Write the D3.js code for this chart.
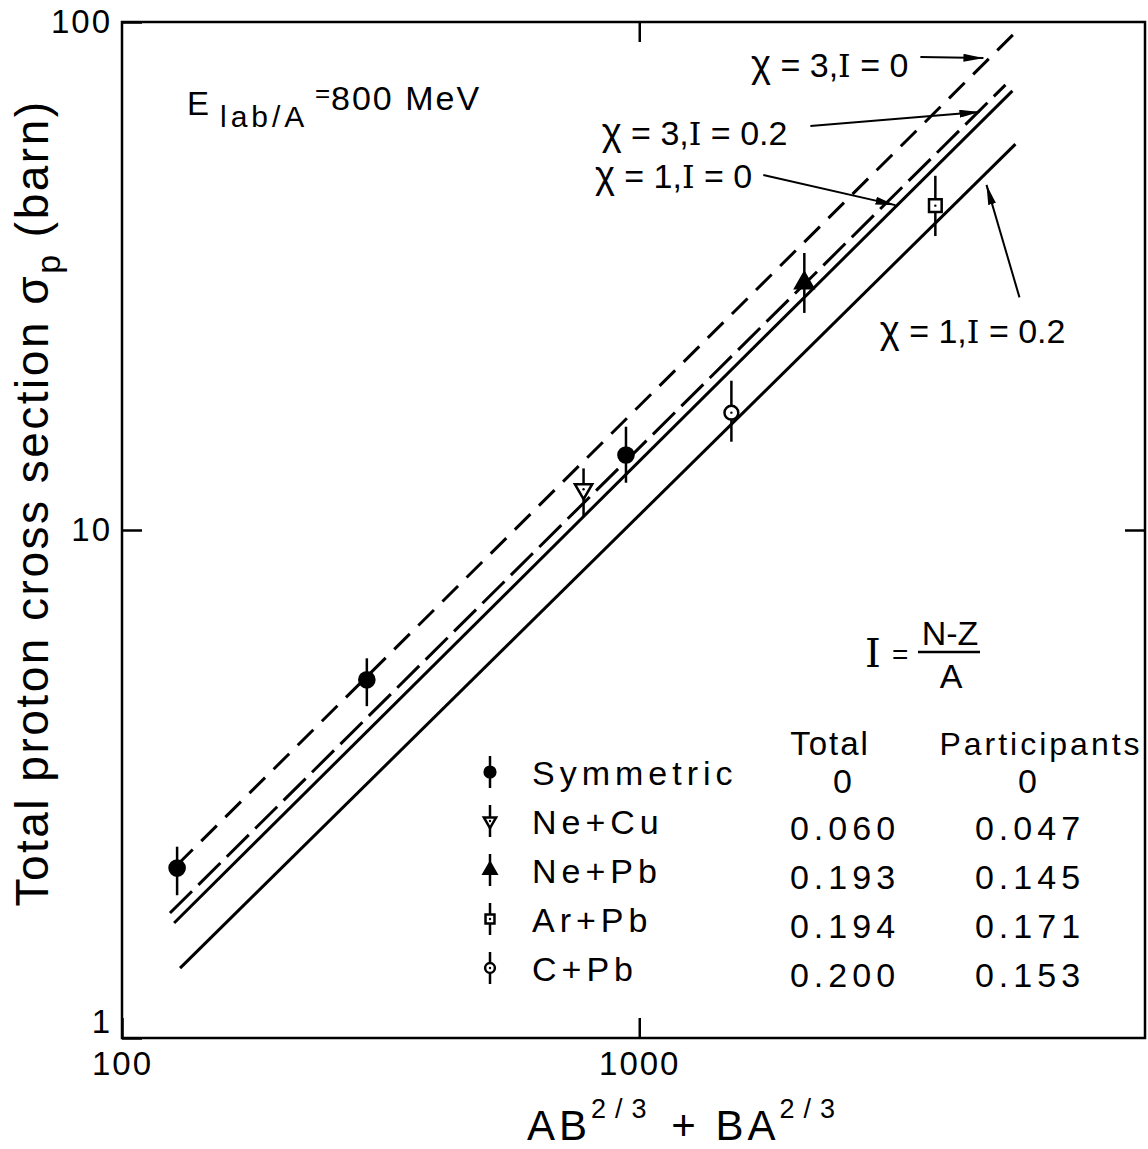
<!DOCTYPE html>
<html>
<head>
<meta charset="utf-8">
<script src="https://cdn.jsdelivr.net/npm/d3@7"></script>
<style>
  body { margin: 0; background: #fff; }
  svg { display: block; }
  text { font-family: "Liberation Sans", Arial, sans-serif; fill: #000; }
  .serif { font-family: "DejaVu Serif", serif; }
</style>
</head>
<body>
<div id="chart"></div>
<script>
// axes
var xDomain = [100, 9500];
var yDomain = [1, 100];
var xTickVals = [100, 1000];
var yTickVals = [1, 10, 100];

// model curves, end points in data units (AB^2/3 + BA^2/3, barn)
var curveNames = ["χ=3, I=0", "χ=3, I=0.2", "χ=1, I=0", "χ=1, I=0.2"];
var curveStart = [[127.8, 2.19], [123.8, 1.762], [126.1, 1.684], [129.5, 1.373]];
var curveEnd = [[5313, 95.0], [5104, 75.2], [5265, 73.2], [5337, 57.5]];

// measured points
var ptSystem = ["Symmetric", "Symmetric", "Symmetric", "Ne+Cu", "C+Pb", "Ne+Pb", "Ar+Pb"];
var ptX = [127.8, 297.4, 942.6, 780.4, 1507, 2085, 3736];
var ptY = [2.16, 5.07, 14.05, 12.03, 17.02, 30.64, 43.5];
var ptLo = [1.91, 4.50, 12.39, 10.62, 14.92, 26.75, 37.9];
var ptHi = [2.38, 5.59, 15.97, 13.22, 19.67, 35.1, 49.8];

// legend table
var legendSystems = ["Symmetric", "Ne+Cu", "Ne+Pb", "Ar+Pb", "C+Pb"];
var isoTotal = ["0", "0.060", "0.193", "0.194", "0.200"];
var isoParticipants = ["0", "0.047", "0.145", "0.171", "0.153"];

// curve labels: text end point, arrow tail and arrow head, in data units
var annChi = ["3", "3", "1", "1"];
var annI = ["0", "0.2", "0", "0.2"];
var annText = [[3314, 77.9], [1934, 57.3], [1654, 47.1], [6668, 23.3]];
var annTail = [[3495, 85.3], [2142, 62.4], [1737, 50.0], [5433, 28.7]];
var annHead = [[4628, 84.9], [4546, 66.5], [3128, 43.6], [4691, 47.8]];

var curveDash = ["22,12", "31,9", null, null];

var width = 1148, height = 1149;

var svg = d3.select("#chart").append("svg")
    .attr("width", width)
    .attr("height", height);

svg.append("rect").attr("width", width).attr("height", height).attr("fill", "#fff");

var x = d3.scaleLog().domain(xDomain).range([122, 1145]);
var y = d3.scaleLog().domain(yDomain).range([1038, 22]);

var defs = svg.append("defs");
defs.append("marker")
    .attr("id", "ah")
    .attr("viewBox", "0 0 10 10")
    .attr("refX", 10).attr("refY", 5)
    .attr("markerWidth", 20).attr("markerHeight", 8)
    .attr("markerUnits", "userSpaceOnUse")
    .attr("preserveAspectRatio", "none")
    .attr("orient", "auto")
  .append("path")
    .attr("d", "M0,0 L10,5 L0,10 Z")
    .attr("fill", "#000");

// frame
svg.append("rect")
    .attr("x", x.range()[0])
    .attr("y", y.range()[1])
    .attr("width", x.range()[1] - x.range()[0])
    .attr("height", y.range()[0] - y.range()[1])
    .attr("fill", "none")
    .attr("stroke", "#000")
    .attr("stroke-width", 2.5);

function styleAxis(g) {
  g.select(".domain").remove();
  g.selectAll(".tick line").attr("stroke", "#000").attr("stroke-width", 2.5);
  g.selectAll(".tick text")
    .style("font-family", "'Liberation Sans', Arial, sans-serif")
    .style("font-size", "33px")
    .style("letter-spacing", "2px");
}

svg.append("g")
    .attr("transform", "translate(0," + y.range()[0] + ")")
    .call(d3.axisBottom(x).tickValues(xTickVals).tickFormat(d3.format("d"))
      .tickSizeInner(-20).tickSizeOuter(0).tickPadding(14))
    .call(styleAxis);

svg.append("g")
    .attr("transform", "translate(0," + y.range()[1] + ")")
    .call(d3.axisTop(x).tickValues([1000]).tickFormat("")
      .tickSizeInner(-20).tickSizeOuter(0))
    .call(styleAxis);

svg.append("g")
    .attr("transform", "translate(" + x.range()[0] + ",0)")
    .call(d3.axisLeft(y).tickValues(yTickVals).tickFormat(d3.format("d"))
      .tickSizeInner(-20).tickSizeOuter(0).tickPadding(10))
    .call(styleAxis)
    .selectAll(".tick text")
    .attr("y", function(d) { return d === yDomain[0] ? -16 : 0; });

svg.append("g")
    .attr("transform", "translate(" + x.range()[1] + ",0)")
    .call(d3.axisRight(y).tickValues([10]).tickFormat("")
      .tickSizeInner(-20).tickSizeOuter(0))
    .call(styleAxis);

// model lines
var line = d3.line().x(function(d) { return x(d[0]); }).y(function(d) { return y(d[1]); });

svg.selectAll(".curve")
    .data(curveNames)
  .enter().append("path")
    .attr("class", "curve")
    .attr("d", function(d, i) { return line([curveStart[i], curveEnd[i]]); })
    .attr("fill", "none")
    .attr("stroke", "#000")
    .attr("stroke-width", 3)
    .attr("stroke-dasharray", function(d, i) { return curveDash[i]; });

// marker shapes per system
var markerStyle = {
  "Symmetric": { type: d3.symbolCircle, size: 180, fill: true, rot: 0 },
  "Ne+Cu": { type: d3.symbolTriangle, size: 130, fill: false, rot: 180 },
  "Ne+Pb": { type: d3.symbolTriangle, size: 140, fill: true, rot: 0 },
  "Ar+Pb": { type: d3.symbolSquare, size: 160, fill: false, rot: 0 },
  "C+Pb": { type: d3.symbolCircle, size: 150, fill: false, rot: 0 }
};

function drawMarker(g, sys, scale) {
  var m = markerStyle[sys];
  g.append("path")
    .attr("d", d3.symbol().type(m.type).size(m.size * scale)())
    .attr("transform", "rotate(" + m.rot + ")")
    .attr("fill", m.fill ? "#000" : "#fff")
    .attr("stroke", "#000")
    .attr("stroke-width", 2.5);
  if (!m.fill) {
    g.append("circle").attr("r", 1.2).attr("fill", "#000");
  }
}

var pts = svg.selectAll(".pt")
    .data(ptSystem)
  .enter().append("g")
    .attr("class", "pt");

pts.append("line")
    .attr("x1", function(d, i) { return x(ptX[i]); })
    .attr("x2", function(d, i) { return x(ptX[i]); })
    .attr("y1", function(d, i) { return y(ptLo[i]); })
    .attr("y2", function(d, i) { return y(ptHi[i]); })
    .attr("stroke", "#000")
    .attr("stroke-width", 2.5);

pts.each(function(d, i) {
  var g = d3.select(this).append("g")
    .attr("transform", "translate(" + x(ptX[i]) + "," + y(ptY[i]) + ")");
  drawMarker(g, d, 1);
});

// curve annotations
var ann = svg.selectAll(".ann")
    .data(curveNames)
  .enter().append("g")
    .attr("class", "ann");

ann.append("line")
    .attr("x1", function(d, i) { return x(annTail[i][0]); })
    .attr("y1", function(d, i) { return y(annTail[i][1]); })
    .attr("x2", function(d, i) { return x(annHead[i][0]); })
    .attr("y2", function(d, i) { return y(annHead[i][1]); })
    .attr("stroke", "#000")
    .attr("stroke-width", 2)
    .attr("marker-end", "url(#ah)");

var annT = ann.append("text")
    .attr("x", function(d, i) { return x(annText[i][0]); })
    .attr("y", function(d, i) { return y(annText[i][1]); })
    .attr("text-anchor", "end")
    .style("font-size", "34px");
annT.append("tspan").style("font-size", "38px").text("χ");
annT.append("tspan").text(function(d, i) { return " = " + annChi[i] + ","; });
annT.append("tspan").attr("class", "serif").style("font-size", "32px").text("I");
annT.append("tspan").text(function(d, i) { return " = " + annI[i]; });

// E_lab/A label
var e = svg.append("g");
e.append("text").attr("x", 187).attr("y", 115).style("font-size", "33px").text("E");
e.append("text").attr("x", 220).attr("y", 127).style("font-size", "30px")
  .style("letter-spacing", "4px").text("lab/A");
e.append("text").attr("x", 315).attr("y", 102).style("font-size", "26px").text("=");
e.append("text").attr("x", 331).attr("y", 110).style("font-size", "34px")
  .style("letter-spacing", "2px").text("800 MeV");

// I = (N-Z)/A
var fr = svg.append("g");
fr.append("text").attr("class", "serif").attr("x", 865).attr("y", 667)
  .style("font-size", "40px").text("I");
fr.append("text").attr("x", 892).attr("y", 664).style("font-size", "28px").text("=");
fr.append("text").attr("x", 950).attr("y", 645).attr("text-anchor", "middle")
  .style("font-size", "34px").text("N-Z");
fr.append("line").attr("x1", 918).attr("x2", 980).attr("y1", 652).attr("y2", 652)
  .attr("stroke", "#000").attr("stroke-width", 2.5);
fr.append("text").attr("x", 951).attr("y", 688).attr("text-anchor", "middle")
  .style("font-size", "34px").text("A");

// legend table
var lg = svg.append("g");
lg.append("text").attr("x", 830).attr("y", 755).attr("text-anchor", "middle")
  .style("font-size", "33px").style("letter-spacing", "2px").text("Total");
lg.append("text").attr("x", 1041).attr("y", 755).attr("text-anchor", "middle")
  .style("font-size", "32px").style("letter-spacing", "3px").text("Participants");

var rows = lg.selectAll(".row")
    .data(legendSystems)
  .enter().append("g")
    .attr("class", "row")
    .attr("transform", function(d, i) { return "translate(0," + (785 + i * 49) + ")"; });

rows.each(function(d) {
  var g = d3.select(this).append("g").attr("transform", "translate(490,-13)");
  g.append("line").attr("y1", -16).attr("y2", 16).attr("stroke", "#000").attr("stroke-width", 2.5);
  drawMarker(g, d, 0.5);
});

rows.append("text")
    .attr("x", 532)
    .style("font-size", "34px")
    .style("letter-spacing", "5px")
    .text(function(d) { return d; });

rows.append("text")
    .attr("x", 845).attr("y", function(d, i) { return i === 0 ? 8 : 6; })
    .attr("text-anchor", "middle")
    .style("font-size", "34px")
    .style("letter-spacing", "5px")
    .text(function(d, i) { return isoTotal[i]; });

rows.append("text")
    .attr("x", 1030).attr("y", function(d, i) { return i === 0 ? 8 : 6; })
    .attr("text-anchor", "middle")
    .style("font-size", "34px")
    .style("letter-spacing", "5px")
    .text(function(d, i) { return isoParticipants[i]; });

// axis titles
var xt = svg.append("text")
    .attr("x", 527).attr("y", 1140)
    .style("font-size", "42px")
    .style("letter-spacing", "4px");
xt.append("tspan").text("AB");
xt.append("tspan").attr("dy", -22).style("font-size", "27px").style("letter-spacing", "9px").text("2/3");
xt.append("tspan").attr("dy", 22).text(" + BA");
xt.append("tspan").attr("dy", -22).style("font-size", "27px").style("letter-spacing", "9px").text("2/3");

var yt = svg.append("text")
    .attr("transform", "translate(48,503) rotate(-90)")
    .attr("text-anchor", "middle")
    .style("font-size", "46px")
    .style("letter-spacing", "2.5px");
yt.append("tspan").text("Total proton cross section σ");
yt.append("tspan").attr("dy", 12).style("font-size", "34px").text("p");
yt.append("tspan").attr("dy", -12).text(" (barn)");
</script>
</body>
</html>
